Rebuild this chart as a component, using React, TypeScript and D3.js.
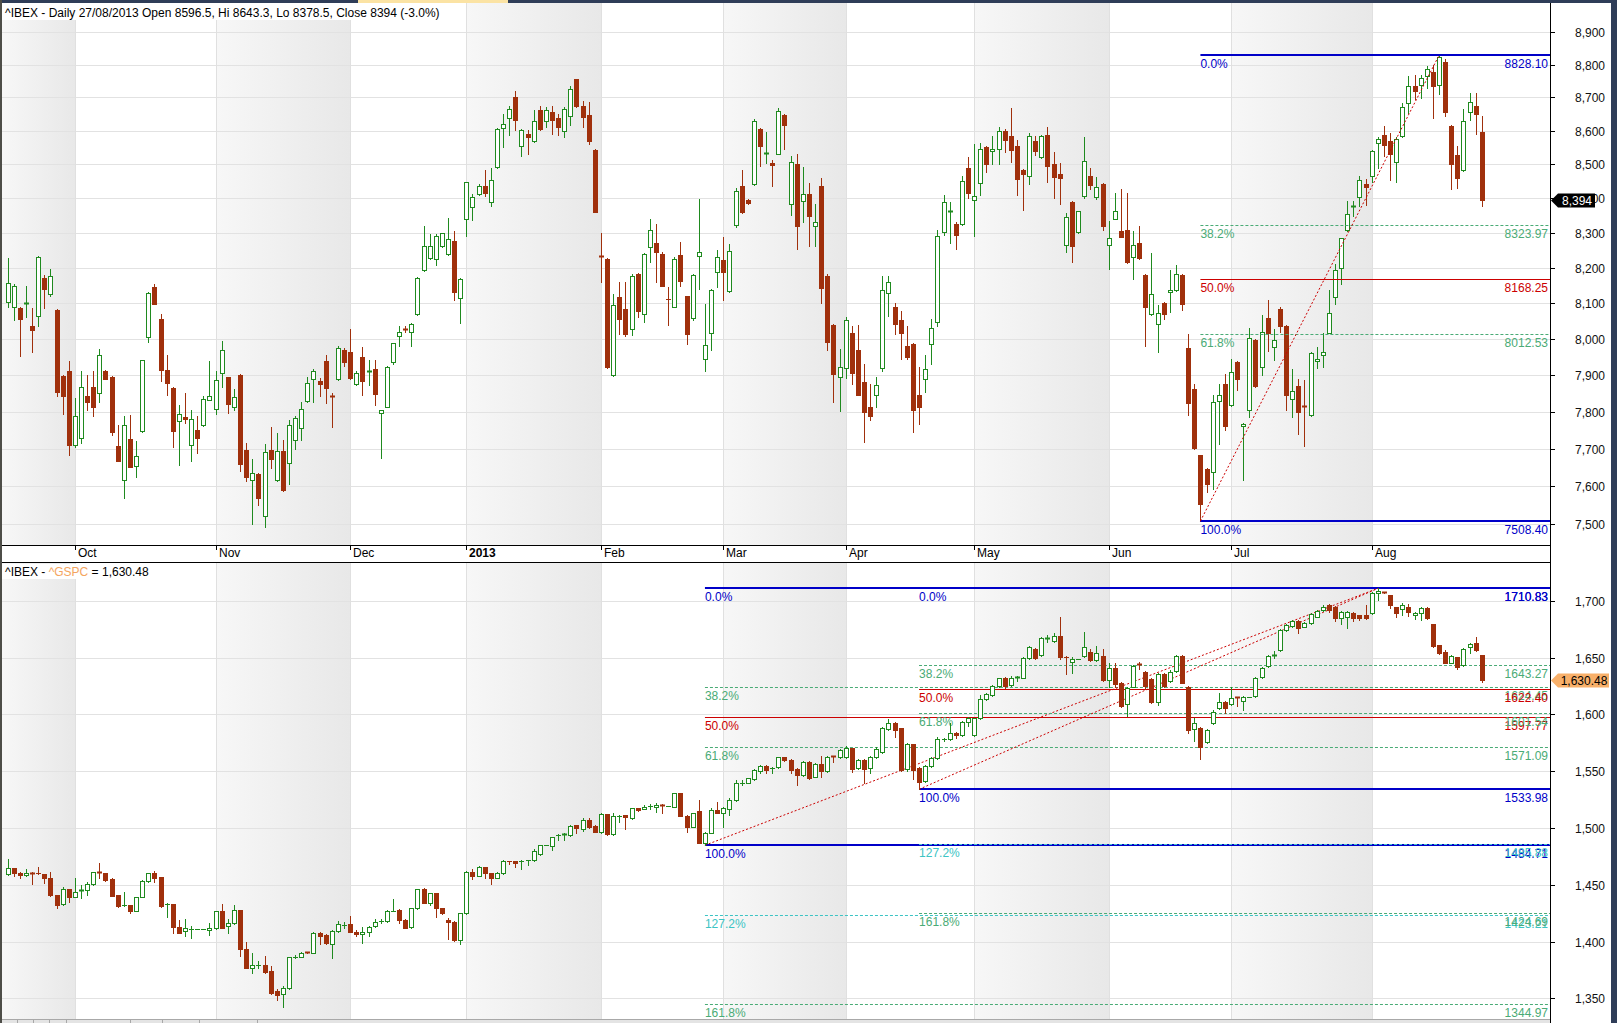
import React from 'react';
import * as d3 from 'd3';

// ---------- DATA ----------
// IBEX daily candles [open, high, low, close], 14 Sep 2012 .. 27 Aug 2013
const ibexOHLC: number[][] = [
  [8104,8228,8090,8156],[8088,8154,8051,8149],[8086,8090,7952,8056],[8096,8149,8060,8100],[8035,8086,7964,8023],
  [8063,8232,8036,8230],[8170,8180,8085,8139],[8124,8197,8121,8177],[8080,8082,7843,7853],[7898,7900,7793,7842],
  [7911,7938,7682,7709],
  // Oct
  [7709,7837,7705,7787],[7728,7911,7716,7866],[7842,7900,7803,7827],[7866,7911,7788,7813],[7851,7972,7827,7955],
  [7911,7913,7888,7890],[7895,7897,7737,7745],[7706,7764,7666,7668],[7616,7788,7569,7764],[7726,7790,7650,7652],
  [7654,7721,7625,7679],[7747,7942,7745,7940],[8006,8131,7991,8129],[8146,8154,8096,8098],[8055,8068,7882,7913],
  [7913,7955,7844,7878],[7864,7866,7705,7747],[7774,7818,7655,7793],[7784,7851,7769,7780],[7710,7803,7668,7779],
  [7750,7788,7687,7728],[7764,7842,7762,7835],[7832,7938,7830,7843],
  // Nov
  [7808,7911,7793,7885],[7905,7994,7866,7969],[7893,7895,7795,7821],[7813,7861,7805,7840],[7900,7903,7639,7660],
  [7696,7716,7614,7625],[7616,7672,7500,7636],[7633,7635,7550,7569],[7522,7713,7494,7691],[7696,7757,7647,7673],
  [7616,7742,7613,7694],[7694,7724,7588,7590],[7661,7776,7607,7764],[7723,7788,7698,7782],[7755,7826,7724,7808],
  [7829,7893,7827,7879],[7890,7916,7827,7911],[7882,7892,7843,7875],[7938,7955,7823,7863],[7842,7851,7759,7840],
  [7888,7979,7887,7974],[7969,7974,7925,7935],
  // Dec
  [7962,8028,7890,7892],[7874,7911,7873,7905],[7950,7976,7846,7882],[7909,7942,7871,7911],[7917,7942,7818,7848],
  [7796,7804,7674,7803],[7813,7925,7811,7922],[7935,7989,7930,7987],[8008,8035,7979,8018],[8026,8036,8018,8023],
  [8018,8045,7979,8040],[8068,8174,8065,8172],[8193,8321,8190,8263],[8228,8297,8225,8263],[8225,8296,8208,8290],
  [8261,8300,8260,8299],[8238,8344,8235,8282],[8276,8304,8107,8131],[8114,8170,8045,8168],
  // Jan 2013
  [8340,8448,8290,8447],[8375,8414,8336,8404],[8413,8442,8409,8435],[8435,8482,8408,8416],[8390,8490,8377,8453],
  [8492,8608,8490,8606],[8608,8649,8551,8619],[8639,8673,8587,8665],[8700,8720,8603,8631],[8553,8606,8525,8601],
  [8590,8601,8530,8580],[8569,8663,8567,8628],[8663,8675,8602,8604],[8628,8671,8610,8663],[8655,8674,8590,8631],
  [8639,8649,8587,8612],[8598,8671,8580,8666],[8644,8736,8617,8727],[8755,8757,8671,8673],[8674,8689,8610,8642],
  [8647,8685,8559,8569],[8543,8545,8359,8361],
  // Feb
  [8232,8300,8160,8230],[8225,8227,7920,7922],[7900,8124,7898,8093],[8116,8160,8013,8056],[8083,8160,8008,8013],
  [8026,8182,8010,8177],[8183,8185,8060,8078],[8068,8241,8046,8238],[8259,8340,8215,8307],[8271,8326,8160,8246],
  [8240,8246,8147,8149],[8112,8144,8038,8110],[8090,8230,8088,8225],[8235,8273,8149,8163],[8119,8121,7984,8013],
  [8058,8182,8053,8180],[8232,8398,8139,8244],[7945,8098,7912,7982],[8015,8139,7969,8136],[8188,8251,8144,8230],
  // Mar
  [8222,8287,8107,8188],[8134,8268,8131,8248],[8323,8429,8316,8423],[8435,8482,8357,8359],[8395,8397,8385,8387],
  [8442,8636,8439,8628],[8606,8608,8495,8553],[8530,8596,8505,8534],[8503,8514,8437,8497],[8532,8669,8530,8658],
  [8647,8649,8546,8617],[8383,8525,8352,8508],[8500,8530,8253,8321],[8393,8493,8331,8414],[8413,8446,8263,8349],
  [8321,8385,8261,8331],[8437,8460,8100,8141],[8177,8182,7969,7991],[8038,8040,7826,7902],[7895,7972,7801,7922],
  // Apr
  [7920,8060,7892,8053],[8017,8036,7876,7905],[7969,8038,7844,7846],[7880,7930,7719,7798],[7811,7876,7777,7787],
  [7846,7893,7813,7873],[7920,8177,7912,8136],[8127,8177,8063,8160],[8088,8100,8013,8040],[8051,8078,7945,8015],
  [7979,8034,7945,7950],[7986,7989,7745,7803],[7846,7922,7767,7813],[7888,7955,7854,7916],[7984,8055,7930,8030],
  [8046,8307,8035,8290],[8302,8409,8294,8388],[8359,8388,8271,8364],[8326,8331,8254,8295],[8325,8465,8323,8450],
  [8490,8521,8400,8416],
  // May
  [8395,8559,8290,8406],[8445,8564,8411,8545],[8551,8553,8477,8502],[8541,8585,8502,8545],[8545,8612,8502,8599],
  [8599,8606,8537,8571],[8585,8669,8508,8543],[8555,8572,8409,8458],[8484,8486,8367,8472],[8465,8594,8442,8585],
  [8569,8585,8527,8541],[8523,8587,8519,8585],[8587,8612,8448,8495],[8500,8537,8400,8463],[8472,8503,8383,8461],
  [8266,8356,8246,8346],[8390,8392,8217,8263],[8302,8364,8300,8362],[8408,8582,8400,8511],[8465,8490,8427,8440],
  [8403,8463,8397,8434],[8442,8444,8307,8321],
  // Jun
  [8266,8333,8195,8284],[8341,8416,8339,8362],[8305,8427,8287,8289],[8307,8416,8213,8215],[8230,8304,8168,8266],
  [8271,8320,8225,8227],[8180,8182,7981,8090],[8068,8243,8066,8124],[8040,8095,7962,8071],[8101,8103,8055,8070],
  [8132,8193,8076,8136],[8136,8208,8134,8183],[8180,8182,8081,8098],[7974,8012,7790,7823],[7861,7876,7699,7701],
  [7682,7684,7508.4,7552],[7646,7648,7585,7607],[7637,7846,7592,7825],[7829,7876,7712,7844],[7876,7903,7750,7762],
  // Jul
  [7818,7945,7816,7907],[7935,7937,7859,7888],[7762,7769,7616,7766],[7805,8030,7786,8001],[7997,7999,7866,7869],
  [7922,8065,7900,8018],[8058,8108,7967,8017],[7977,8028,7940,7996],[8083,8088,8018,8034],[8035,8037,7803,7844],
  [7835,7917,7786,7856],[7869,7888,7740,7798],[7816,7885,7706,7813],[7790,7964,7788,7960],[7938,7977,7920,7945],
  [7955,8017,7922,7964],[8017,8136,8015,8073],[8118,8210,8098,8193],[8200,8286,8154,8284],[8307,8392,8304,8354],
  [8375,8393,8349,8377],[8404,8466,8377,8455],[8442,8456,8380,8432],
  // Aug
  [8465,8543,8448,8539],[8564,8580,8490,8575],[8587,8615,8525,8556],[8569,8594,8453,8530],[8508,8582,8448,8575],
  [8585,8682,8580,8671],[8684,8765,8652,8734],[8734,8769,8695,8720],[8738,8769,8698,8760],[8766,8796,8730,8788],
  [8777,8799,8639,8736],[8739,8828.1,8711,8823],[8809,8817,8644,8657],[8615,8617,8427,8502],[8527,8553,8429,8461],
  [8484,8666,8479,8628],[8657,8712,8633,8685],[8673,8714,8590,8649],[8596.5,8643.3,8378.5,8394],
];

// S&P 500 (^GSPC) on the same bars [open, high, low, close]
const spxOHLC: number[][] = [
  [1459.4,1472.3,1458.5,1464.4],[1464.4,1464.6,1457.6,1460.1],[1460.6,1461.0,1456.2,1458.5],[1458.5,1463.5,1457.6,1460.6],
  [1460.6,1461.0,1450.3,1459.4],[1460.5,1465.8,1459.4,1460.0],[1459.4,1459.6,1451.8,1455.6],[1455.6,1461.4,1440.3,1440.5],
  [1440.9,1441.0,1429.8,1432.1],[1432.7,1448.2,1432.1,1445.9],[1445.9,1446.0,1435.0,1439.4],
  // Oct
  [1439.4,1455.6,1439.2,1443.8],[1444.7,1449.7,1438.6,1445.3],[1445.3,1452.6,1440.9,1450.3],[1450.3,1461.4,1449.7,1460.9],
  [1460.9,1469.4,1455.6,1460.0],[1460.0,1460.2,1453.5,1454.1],[1454.7,1455.6,1440.3,1440.3],[1440.9,1441.0,1430.6,1431.5],
  [1432.0,1443.8,1431.5,1432.1],[1432.1,1432.2,1425.3,1427.1],[1427.1,1439.4,1427.0,1438.8],[1439.4,1454.1,1439.3,1453.5],
  [1453.5,1460.6,1452.6,1460.0],[1460.6,1462.3,1452.6,1456.2],[1456.5,1457.0,1430.0,1431.2],[1432.8,1434.2,1421.8,1433.0],
  [1433.0,1433.1,1407.2,1412.5],[1412.5,1418.9,1407.2,1407.8],[1409.3,1419.5,1405.1,1411.6],[1411.0,1413.6,1402.8,1411.0],
  [1411.0,1411.0,1411.0,1411.0],[1411.0,1411.0,1411.0,1411.0],[1410.2,1416.0,1405.7,1412.2],
  // Nov
  [1411.6,1426.8,1411.0,1426.8],[1426.8,1433.0,1412.1,1412.2],[1413.6,1419.5,1407.8,1416.6],[1416.0,1432.1,1415.4,1427.7],
  [1427.7,1427.8,1387.2,1393.1],[1393.1,1399.9,1376.4,1376.5],[1377.0,1389.5,1372.5,1379.3],[1379.0,1383.1,1376.4,1379.3],
  [1379.3,1387.2,1372.5,1373.4],[1374.3,1378.4,1353.9,1354.8],[1356.0,1358.0,1348.5,1353.3],[1353.9,1360.4,1342.6,1359.3],
  [1358.7,1386.6,1358.0,1386.0],[1386.3,1388.0,1385.7,1386.6],[1386.6,1390.9,1386.0,1390.1],[1390.4,1391.0,1389.8,1390.2],
  [1390.1,1408.6,1389.5,1407.8],[1407.8,1408.6,1397.5,1405.1],[1405.7,1406.6,1397.5,1398.4],[1397.8,1410.2,1385.2,1409.3],
  [1409.3,1418.0,1408.6,1415.1],[1414.3,1417.4,1411.6,1414.5],
  // Dec
  [1415.1,1422.4,1408.0,1408.6],[1408.6,1410.2,1404.8,1406.3],[1406.3,1413.0,1398.4,1408.6],[1408.6,1413.6,1404.8,1413.0],
  [1413.6,1419.5,1413.0,1417.4],[1417.9,1419.5,1416.0,1418.3],[1418.0,1427.7,1417.4,1426.8],[1426.9,1437.1,1426.8,1427.1],
  [1427.7,1428.3,1416.6,1418.9],[1418.9,1419.5,1411.6,1412.2],[1412.5,1429.2,1412.2,1429.2],[1429.2,1445.9,1428.6,1445.9],
  [1445.9,1446.8,1433.6,1434.2],[1434.2,1443.0,1432.1,1442.4],[1443.0,1443.1,1421.8,1429.2],[1429.2,1429.3,1424.2,1425.3],
  [1418.9,1420.4,1401.9,1416.9],[1417.4,1418.0,1400.8,1401.4],[1401.4,1425.3,1397.8,1424.8],
  // Jan 2013
  [1424.8,1462.0,1424.2,1461.4],[1461.4,1463.5,1454.7,1457.6],[1457.9,1466.4,1457.6,1465.3],[1465.3,1465.5,1455.6,1460.6],
  [1460.6,1460.7,1450.6,1456.2],[1456.2,1461.4,1455.6,1460.6],[1460.0,1471.7,1459.4,1471.1],[1471.1,1471.2,1468.2,1470.9],
  [1471.1,1471.2,1465.8,1468.8],[1470.5,1471.7,1463.5,1470.8],[1471.5,1471.7,1467.3,1471.7],[1471.7,1481.1,1471.1,1479.9],
  [1477.0,1485.0,1476.1,1484.9],[1485.0,1485.0,1485.0,1485.0],[1484.0,1492.3,1480.5,1491.7],[1493.5,1494.6,1489.3,1493.8],
  [1494.0,1495.2,1489.3,1494.2],[1493.7,1502.2,1492.8,1501.6],[1502.2,1502.4,1495.8,1499.6],[1498.7,1508.4,1497.5,1506.9],
  [1506.9,1509.0,1499.6,1501.0],[1501.6,1502.2,1496.5,1496.7],
  // Feb
  [1496.7,1512.8,1495.8,1511.9],[1511.9,1512.2,1493.7,1494.3],[1494.3,1512.8,1493.7,1510.4],[1510.4,1511.3,1505.5,1510.7],
  [1511.0,1511.2,1498.7,1509.8],[1508.4,1517.8,1507.5,1517.2],[1517.2,1517.5,1515.1,1515.7],[1516.9,1520.1,1516.3,1518.7],
  [1519.2,1521.0,1516.3,1519.5],[1518.7,1522.2,1514.3,1520.1],[1520.1,1521.0,1513.4,1519.2],[1519.2,1519.2,1519.2,1519.2],
  [1518.7,1531.0,1518.1,1530.4],[1530.4,1530.6,1510.4,1510.7],[1510.7,1511.3,1496.7,1501.0],[1501.0,1513.5,1500.5,1513.0],
  [1514.8,1524.5,1486.4,1487.0],[1487.0,1496.7,1484.71,1495.8],[1495.8,1517.2,1495.2,1515.7],[1515.7,1523.1,1512.8,1513.4],
  // Mar
  [1512.8,1518.7,1501.0,1517.2],[1516.3,1526.0,1511.3,1524.5],[1524.5,1542.1,1524.0,1539.2],[1539.5,1542.1,1537.8,1539.8],
  [1539.8,1544.2,1539.2,1543.6],[1542.7,1551.5,1542.1,1550.9],[1550.4,1555.3,1548.6,1554.5],[1554.5,1555.3,1548.6,1550.9],
  [1552.3,1553.9,1548.0,1552.6],[1553.3,1562.7,1552.4,1562.1],[1562.1,1562.7,1559.1,1559.7],[1559.7,1560.3,1548.6,1550.9],
  [1551.5,1552.4,1537.8,1546.5],[1546.5,1559.1,1545.7,1558.3],[1558.3,1559.1,1542.7,1544.2],[1545.1,1556.8,1544.5,1555.9],
  [1555.9,1563.3,1545.1,1550.3],[1550.3,1563.3,1549.5,1562.7],[1562.9,1563.6,1558.0,1562.6],[1562.1,1569.1,1561.2,1568.5],
  // Apr
  [1562.1,1572.1,1561.2,1570.0],[1570.0,1570.2,1549.5,1551.5],[1552.4,1560.3,1551.5,1559.7],[1559.7,1560.3,1539.2,1551.5],
  [1552.4,1563.3,1548.6,1562.7],[1562.1,1571.5,1561.2,1569.1],[1567.1,1588.5,1566.2,1587.6],[1586.7,1595.5,1586.1,1592.6],
  [1592.6,1592.8,1579.7,1586.1],[1587.6,1587.8,1550.3,1550.9],[1551.5,1574.4,1550.3,1573.5],[1573.5,1573.7,1542.7,1550.9],
  [1552.4,1553.3,1533.98,1540.7],[1541.3,1555.3,1540.1,1554.5],[1554.5,1562.1,1553.3,1561.2],[1561.2,1580.3,1560.3,1577.9],
  [1577.9,1579.0,1576.8,1578.3],[1577.9,1592.0,1577.3,1583.8],[1583.8,1584.7,1578.8,1581.7],[1581.7,1594.4,1580.9,1593.5],
  [1593.5,1597.3,1589.7,1596.4],
  // May
  [1581.7,1597.0,1580.9,1596.4],[1596.4,1617.0,1595.5,1613.1],[1613.1,1619.0,1612.6,1617.8],[1617.0,1625.8,1616.1,1624.9],
  [1624.9,1632.2,1624.3,1631.6],[1632.2,1633.1,1623.4,1624.9],[1625.8,1633.7,1624.9,1631.6],[1632.2,1633.7,1629.6,1632.6],
  [1632.2,1650.1,1631.6,1649.2],[1649.2,1660.1,1648.4,1658.9],[1657.7,1658.6,1648.4,1649.2],[1652.2,1667.7,1651.3,1666.8],
  [1666.5,1669.8,1663.9,1666.8],[1664.8,1671.8,1663.9,1668.9],[1668.9,1685.9,1648.5,1650.5],[1650.7,1651.3,1635.4,1650.1],
  [1646.3,1650.1,1636.6,1648.6],[1648.6,1648.6,1648.6,1648.6],[1651.3,1672.7,1650.7,1659.5],[1655.1,1657.2,1647.2,1647.8],
  [1647.8,1660.1,1647.2,1653.6],[1651.3,1657.2,1629.6,1630.2],
  // Jun
  [1630.2,1644.8,1623.7,1640.4],[1640.4,1644.8,1623.7,1627.0],[1627.8,1628.7,1606.7,1607.6],[1609.0,1624.3,1598.5,1622.8],
  [1624.3,1643.4,1623.7,1642.5],[1644.0,1646.3,1639.6,1643.2],[1637.5,1638.4,1622.0,1624.9],[1630.8,1631.6,1610.2,1611.1],
  [1611.1,1636.6,1608.2,1635.4],[1635.4,1636.0,1623.7,1624.9],[1629.6,1639.0,1628.7,1637.5],[1638.4,1652.2,1637.5,1651.3],
  [1651.3,1652.2,1627.2,1627.8],[1624.3,1624.9,1583.8,1586.2],[1586.7,1596.4,1576.8,1592.0],[1587.6,1588.5,1560.3,1571.5],
  [1575.9,1586.7,1575.0,1586.2],[1592.0,1603.8,1591.4,1602.3],[1605.2,1618.4,1604.3,1611.1],[1611.1,1612.0,1600.8,1605.2],
  // Jul
  [1609.0,1624.3,1608.2,1614.6],[1614.8,1615.5,1607.3,1614.4],[1611.7,1615.8,1603.8,1615.5],[1615.5,1615.5,1615.5,1615.5],
  [1616.1,1632.5,1615.5,1631.6],[1633.1,1641.9,1632.2,1640.4],[1642.5,1652.2,1641.9,1651.3],[1651.5,1656.0,1649.2,1652.0],
  [1656.6,1674.8,1656.0,1674.2],[1674.2,1679.5,1673.6,1678.6],[1678.0,1683.0,1677.1,1682.1],[1682.1,1683.0,1671.8,1675.6],
  [1677.1,1681.5,1676.5,1680.6],[1680.0,1688.8,1679.5,1688.0],[1685.9,1691.8,1685.3,1690.9],[1691.8,1696.2,1691.2,1694.7],
  [1696.2,1697.1,1690.3,1691.8],[1694.7,1695.3,1682.4,1684.4],[1684.4,1691.2,1679.5,1690.3],[1685.9,1691.2,1675.6,1690.3],
  [1689.4,1690.3,1682.4,1684.4],[1687.4,1687.6,1683.0,1684.4],[1687.4,1696.2,1683.6,1684.4],
  // Aug
  [1688.9,1707.9,1688.3,1707.0],[1706.5,1710.83,1700.6,1708.8],[1707.5,1708.0,1706.5,1707.2],[1705.0,1705.2,1693.2,1696.2],
  [1694.1,1694.7,1685.3,1689.4],[1692.4,1698.2,1687.4,1696.2],[1694.7,1697.1,1686.5,1690.3],[1687.4,1690.3,1683.6,1689.4],
  [1688.9,1694.1,1683.0,1693.2],[1693.2,1694.1,1683.6,1684.4],[1679.5,1679.7,1659.5,1660.1],[1660.9,1661.0,1653.0,1653.6],
  [1655.1,1656.6,1644.8,1645.4],[1645.4,1652.2,1644.8,1651.3],[1650.1,1650.7,1639.6,1641.9],[1643.4,1658.0,1642.5,1657.2],
  [1658.9,1663.0,1653.6,1661.8],[1663.0,1667.7,1656.0,1656.6],[1652.2,1652.4,1628.7,1630.48],
];

// month boundaries (bar index of first trading day)
const monthLabels = ['Oct', 'Nov', 'Dec', '2013', 'Feb', 'Mar', 'Apr', 'May', 'Jun', 'Jul', 'Aug'];
const monthStartIndex = [11, 34, 56, 75, 97, 117, 137, 158, 180, 200, 223];
// shaded (alternate) months as [startIndex, endIndex]
const shadedMonths = [[-2, 11], [34, 56], [75, 97], [117, 137], [158, 180], [200, 223]];

const ibexTicks = [7500, 7600, 7700, 7800, 7900, 8000, 8100, 8200, 8300, 8400, 8500, 8600, 8700, 8800, 8900];
const spxTicks = [1350, 1400, 1450, 1500, 1550, 1600, 1650, 1700];

const fibLevels = [0, 0.382, 0.5, 0.618, 1];
const fibExtLevels = [0, 0.382, 0.5, 0.618, 1, 1.272, 1.618];
const ibexFib = { start: 195, end: 234, low: 7508.4, high: 8828.1 };
const spxFibA = { start: 114, end: 224, low: 1484.71, high: 1710.83 };
const spxFibB = { start: 149, end: 224, low: 1533.98, high: 1710.83 };

const ibexTitle = '^IBEX - Daily 27/08/2013 Open 8596.5, Hi 8643.3, Lo 8378.5, Close 8394 (-3.0%)';
const ibexLast = 8394;
const spxLast = 1630.48;

// ---------- LAYOUT ----------
const W = 1617;
const H = 1023;
const PX0 = 2;
const PX1 = 1550;
const TOP = { y0: 3, y1: 545 };
const BOT = { y0: 562, y1: 1019 };
const FONT = 'Liberation Sans, Arial, Helvetica, sans-serif';
const UP = '#1f8a1f';
const DOWN = '#a0300c';
const BLUE = '#0000c8';
const FRED = '#cc0000';
const FGREEN = '#4aab76';
const FCYAN = '#3cc4c4';

const x = d3.scaleLinear().domain([0, 241]).range([7.6, 1481.8]);
const yTop = d3.scaleLog().domain([7500, 8900]).range([524.3, 32.1]);
const yBot = d3.scaleLinear().domain([1350, 1700]).range([998.3, 600.7]);
const fmt0 = d3.format(',');
const fmt2 = d3.format(',.2f');

function Candles({ data, y }: { data: number[][]; y: (v: number) => number }) {
  return (
    <g>
      {data.map((d, i) => {
        const [o, h, l, c] = d;
        const cx = Math.round(x(i));
        const up = c >= o;
        const col = up ? UP : DOWN;
        let t = Math.round(y(Math.max(o, c)));
        let b = Math.round(y(Math.min(o, c)));
        const wt = Math.round(y(h));
        const wb = Math.round(y(l));
        const wick = <line x1={cx + 0.5} x2={cx + 0.5} y1={wt} y2={wb + 1} stroke={col} strokeWidth={1} />;
        if (b - t <= 1) {
          return (
            <g key={i}>
              {wick}
              <line x1={cx - 2} x2={cx + 3} y1={t + 0.5} y2={t + 0.5} stroke={col} strokeWidth={b - t + 1} />
            </g>
          );
        }
        return (
          <g key={i}>
            {wick}
            {up ? (
              <rect x={cx - 1.5} y={t + 0.5} width={4} height={b - t} fill="#ffffff" stroke={col} strokeWidth={1} />
            ) : (
              <rect x={cx - 2} y={t} width={5} height={b - t + 1} fill={col} />
            )}
          </g>
        );
      })}
    </g>
  );
}

function levelStyle(p: number) {
  if (p === 0 || p === 1) return { stroke: BLUE, width: 2, dash: undefined as string | undefined, text: BLUE };
  if (p === 0.5) return { stroke: FRED, width: 1, dash: undefined, text: FRED };
  if (p === 1.272) return { stroke: FCYAN, width: 1, dash: '3 2', text: FCYAN };
  return { stroke: FGREEN, width: 1, dash: '3 2', text: FGREEN };
}

function Fib({ fib, levels, y, trendDash }: { fib: any; levels: number[]; y: (v: number) => number; trendDash?: boolean }) {
  const xs = x(fib.start);
  const rng = fib.high - fib.low;
  return (
    <g fontFamily={FONT} fontSize={12}>
      {levels.map((p) => {
        const v = fib.high - p * rng;
        const yy = Math.round(y(v)) + (p === 0 || p === 1 ? 0 : 0.5);
        const s = levelStyle(p);
        return (
          <g key={p}>
            <line x1={xs} x2={PX1} y1={yy} y2={yy} stroke={s.stroke} strokeWidth={s.width} strokeDasharray={s.dash} />
            <text x={xs} y={yy + 12.5} fill={s.text}>{(p * 100).toFixed(1)}%</text>
            <text x={PX1 - 2} y={yy + 12.5} fill={s.text} textAnchor="end">{v.toFixed(2)}</text>
          </g>
        );
      })}
      <line x1={xs} y1={y(fib.low)} x2={x(fib.end)} y2={y(fib.high)} stroke={FRED} strokeWidth={1} strokeDasharray="2 2" />
    </g>
  );
}

function Background({ y0, y1, yScale, ticks }: { y0: number; y1: number; yScale: (v: number) => number; ticks: number[] }) {
  return (
    <g>
      <rect x={PX0} y={y0} width={PX1 - PX0} height={y1 - y0} fill="#ffffff" />
      {shadedMonths.map(([a, b], k) => {
        const xa = a < 0 ? PX0 : Math.round(x(a));
        const xb = Math.round(x(b));
        return <rect key={k} x={xa} y={y0} width={xb - xa} height={y1 - y0} fill="url(#shade)" />;
      })}
      {ticks.map((t) => (
        <line key={t} x1={PX0} x2={PX1} y1={Math.round(yScale(t)) + 0.5} y2={Math.round(yScale(t)) + 0.5} stroke="#e2e2e2" />
      ))}
      {monthStartIndex.map((mi) => (
        <line key={mi} x1={Math.round(x(mi)) + 0.5} x2={Math.round(x(mi)) + 0.5} y1={y0} y2={y1} stroke="#e0e0e0" />
      ))}
    </g>
  );
}

function Axis({ ticks, yScale, fmt }: { ticks: number[]; yScale: (v: number) => number; fmt: (v: number) => string }) {
  return (
    <g fontFamily={FONT} fontSize={12} fill="#111">
      {ticks.map((t) => {
        const yy = Math.round(yScale(t)) + 0.5;
        return (
          <g key={t}>
            <line x1={PX1} x2={PX1 + 5} y1={yy} y2={yy} stroke="#000" />
            <text x={1605} y={yy + 4}>{''}</text>
            <text x={1605} y={yy + 4} textAnchor="end">{fmt(t)}</text>
          </g>
        );
      })}
    </g>
  );
}

export default function App() {
  const yc1 = Math.round(yTop(ibexLast)) + 0.5;
  const yc2 = Math.round(yBot(spxLast)) + 0.5;
  return (
    <svg width={W} height={H} viewBox={`0 0 ${W} ${H}`} style={{ position: 'absolute', left: 0, top: 0, display: 'block' }}>
      <defs>
        <linearGradient id="shade" x1="0" x2="1" y1="0" y2="0">
          <stop offset="0" stopColor="#f7f7f7" />
          <stop offset="1" stopColor="#e8e8e8" />
        </linearGradient>
      </defs>
      <rect x={0} y={0} width={W} height={H} fill="#ffffff" />

      {/* top panel */}
      <Background y0={TOP.y0} y1={TOP.y1} yScale={yTop} ticks={ibexTicks} />
      <rect x={PX0} y={TOP.y0} width={448} height={17} fill="#ffffff" />
      <text x={5} y={17} fontFamily={FONT} fontSize={12} fill="#000">{ibexTitle}</text>
      <Candles data={ibexOHLC} y={yTop} />
      <Fib fib={ibexFib} levels={fibLevels} y={yTop} />

      {/* bottom panel */}
      <Background y0={BOT.y0} y1={BOT.y1} yScale={yBot} ticks={spxTicks} />
      <rect x={PX0} y={BOT.y0 + 2} width={74} height={15} fill="#ffffff" />
      <text x={5} y={576} fontFamily={FONT} fontSize={12} fill="#000">
        ^IBEX - <tspan fill="#f4a55e">^GSPC</tspan> = {fmt2(spxLast)}
      </text>
      <Fib fib={spxFibA} levels={fibExtLevels} y={yBot} />
      <Fib fib={spxFibB} levels={fibExtLevels} y={yBot} />
      <Candles data={spxOHLC} y={yBot} />

      {/* x axis band */}
      <rect x={PX0} y={TOP.y1} width={PX1 - PX0} height={BOT.y0 - TOP.y1} fill="#ffffff" />
      <line x1={PX0} x2={PX1} y1={TOP.y1 + 0.5} y2={TOP.y1 + 0.5} stroke="#000" />
      <line x1={PX0} x2={PX1} y1={BOT.y0 + 0.5} y2={BOT.y0 + 0.5} stroke="#000" />
      <g fontFamily={FONT} fontSize={12} fill="#000">
        {monthStartIndex.map((mi, k) => {
          const xx = Math.round(x(mi)) + 0.5;
          return (
            <g key={mi}>
              <line x1={xx} x2={xx} y1={TOP.y1} y2={TOP.y1 + 5} stroke="#000" />
              <text x={xx + 2.5} y={557} fontWeight={monthLabels[k] === '2013' ? 'bold' : 'normal'}>{monthLabels[k]}</text>
            </g>
          );
        })}
      </g>

      {/* right axis */}
      <line x1={PX1 + 0.5} x2={PX1 + 0.5} y1={0} y2={H} stroke="#000" />
      <Axis ticks={ibexTicks} yScale={yTop} fmt={fmt0} />
      <Axis ticks={spxTicks} yScale={yBot} fmt={fmt0} />

      <path d={`M${PX1 + 1},${yc1} L${PX1 + 8},${yc1 - 7} L1595,${yc1 - 7} L1595,${yc1 + 7} L${PX1 + 8},${yc1 + 7} Z`} fill="#000" />
      <text x={1577} y={yc1 + 4.5} textAnchor="middle" fontFamily={FONT} fontSize={12} fill="#fff">{fmt0(ibexLast)}</text>
      <path d={`M${PX1 + 1},${yc2} L${PX1 + 8},${yc2 - 7} L1609,${yc2 - 7} L1609,${yc2 + 7} L${PX1 + 8},${yc2 + 7} Z`} fill="#f8b06a" />
      <text x={1584} y={yc2 + 4.5} textAnchor="middle" fontFamily={FONT} fontSize={12} fill="#000">{fmt2(spxLast)}</text>

      {/* frame */}
      <rect x={0} y={0} width={W} height={3} fill="#2f3d58" />
      <rect x={358} y={0} width={150} height={3} fill="#fbe3a4" />
      <rect x={1611} y={0} width={6} height={H} fill="#2f3d58" />
      <rect x={0} y={0} width={2} height={H} fill="#4e4e48" />
      <rect x={2} y={BOT.y1} width={PX1 - 2} height={H - BOT.y1} fill="#e4e4e4" />
      <line x1={2} x2={PX1} y1={BOT.y1 + 0.5} y2={BOT.y1 + 0.5} stroke="#a8a8a8" />
      {[17, 33, 49, 66, 130, 162, 199, 257].map((sx) => (
        <line key={sx} x1={sx + 0.5} x2={sx + 0.5} y1={BOT.y1} y2={H} stroke="#a8a8a8" />
      ))}
    </svg>
  );
}
